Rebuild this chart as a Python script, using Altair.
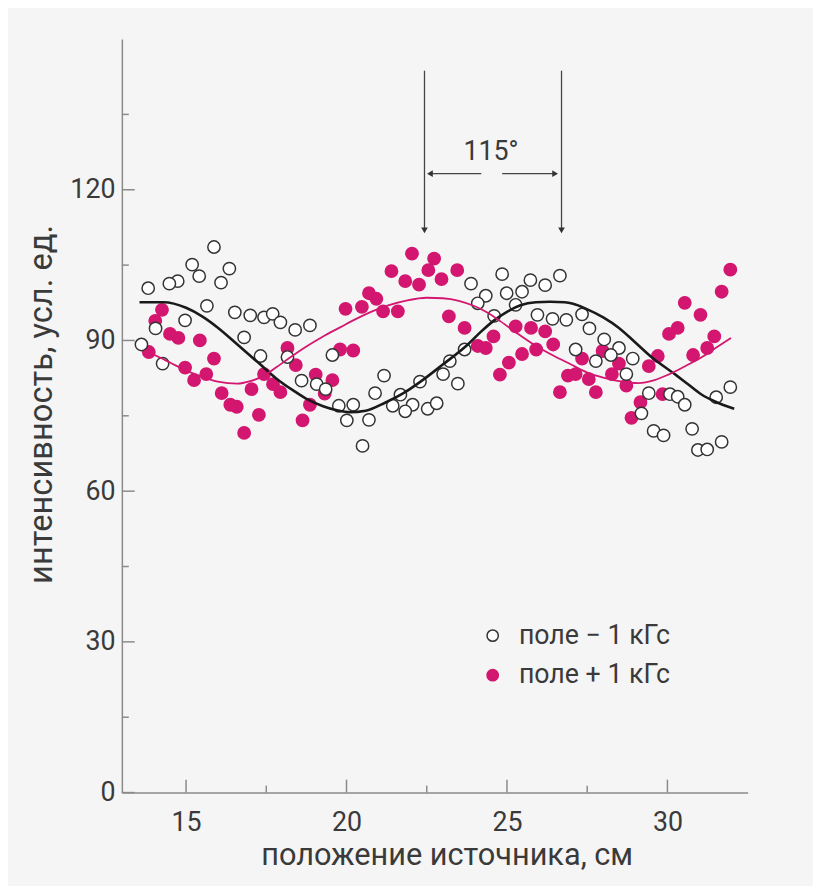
import altair as alt
import pandas as pd

MAG = "#d3166f"
FONT = "Roboto"
TXT = "#3a3a3a"
AXC = "#8a8a8a"

# open circles: field -1 kGs
open_x = [15.87, 15.19, 16.35, 15.41, 14.74, 14.48, 16.09, 13.82, 15.65, 14.97, 14.05, 16.52, 17.0, 17.43,
          17.70, 17.94, 18.40, 18.86, 16.81, 13.61, 14.27, 17.32, 18.16, 19.56, 18.6, 19.07, 19.35, 19.76,
          20.21, 20.01,
          24.85, 23.88, 24.34, 24.09, 24.99, 25.47, 25.73, 26.19, 26.65, 25.27, 24.6, 25.95, 26.42, 26.85,
          23.68, 23.22, 23.01, 23.47, 22.29, 21.17, 20.89, 21.68, 21.44, 22.06, 21.83, 22.53, 22.81, 20.70,
          20.5,
          27.34, 27.57, 28.03, 28.49, 27.14, 27.77, 28.24, 28.92, 28.72, 29.42, 30.08, 30.32, 30.54, 29.19,
          29.57, 29.88, 30.77, 30.95, 31.24, 31.69, 31.52, 31.96]
open_y = [108.6, 105.1, 104.3, 102.8, 101.8, 101.3, 101.5, 100.4, 96.9, 94.0, 92.4, 95.6, 95.0, 94.6,
          95.3, 93.6, 92.1, 93.0, 90.6, 89.2, 85.4, 86.9, 86.7, 87.1, 82.0, 81.3, 80.3, 77.0,
          77.2, 74.1,
          103.2, 101.3, 98.9, 97.4, 99.4, 99.7, 102.0, 101.0, 102.9, 97.1, 94.9, 95.1, 94.3, 94.1,
          88.2, 85.9, 83.3, 81.4, 81.8, 83.0, 79.5, 79.2, 77.0, 77.2, 75.9, 76.4, 77.5, 74.2,
          69.0,
          95.2, 92.4, 90.2, 88.5, 88.2, 85.9, 87.1, 86.4, 83.3, 79.5, 79.3, 78.8, 77.2, 75.5,
          72.0, 71.1, 72.4, 68.2, 68.3, 69.8, 78.7, 80.7]

# filled dots: field +1 kGs
fill_x = [14.25, 14.04, 14.5, 14.76, 15.43, 13.84, 15.87, 14.97, 15.25, 15.63, 16.11, 16.38, 16.58, 17.04,
          17.27, 16.81, 17.43, 17.71, 17.94, 18.16, 18.42, 19.04, 19.56, 19.32, 18.86, 18.63, 19.97, 19.8,
          20.21,
          22.04, 22.73, 21.4, 22.55, 23.45, 21.83, 22.26, 22.96, 20.70, 20.93, 20.48, 21.14, 21.6, 23.19,
          23.68, 24.58, 25.27, 25.75, 26.19, 24.09, 24.34, 26.44, 25.91, 25.47, 25.06, 24.78, 26.9, 26.65,
          31.96, 31.69, 30.54, 31.03, 30.32, 30.05, 31.46, 31.24, 30.8, 29.7, 29.42, 27.98, 27.34, 28.49,
          28.27, 27.14, 27.55, 27.77, 28.72, 29.85, 29.16, 28.88]
fill_y = [96.1, 93.9, 91.3, 90.5, 90.0, 87.7, 86.4, 84.6, 82.1, 83.3, 79.5, 77.2, 76.8, 80.3,
          75.2, 71.6, 83.3, 81.3, 79.7, 88.5, 85.1, 83.2, 82.1, 79.4, 77.2, 74.1, 96.3, 88.2,
          88.0,
          107.3, 106.3, 103.8, 104.0, 104.0, 101.8, 101.1, 102.2, 99.4, 98.3, 96.7, 95.8, 95.8, 94.8,
          92.5, 90.8, 92.8, 92.5, 91.8, 88.9, 88.5, 89.2, 88.2, 87.3, 85.6, 83.2, 83.0, 79.7,
          104.1, 99.7, 97.5, 95.1, 92.5, 91.3, 90.8, 88.5, 87.1, 86.9, 84.9, 87.9, 86.4, 85.4,
          83.3, 83.3, 82.3, 79.7, 81.0, 79.3, 77.7, 74.6]

# fitted curves
black_x = [13.55, 14.3, 15.0, 15.5, 16.0, 16.6, 17.3, 17.8, 18.35, 18.8, 19.27, 19.7, 20.1, 20.6, 21.2,
           21.8, 22.35, 23.0, 23.78, 24.2, 24.6, 25.0, 25.42, 25.9, 26.34, 26.8, 27.06, 27.47, 28.0,
           28.49, 29.0, 29.52, 30.23, 30.6, 31.05, 31.5, 32.08]
black_y = [97.6, 97.6, 96.5, 94.8, 92.5, 89.2, 85.3, 82.5, 80.0, 78.2, 76.9, 76.1, 75.7, 76.0, 77.6,
           79.6, 82.0, 85.2, 89.2, 91.8, 94.0, 95.7, 97.0, 97.6, 97.7, 97.6, 97.3, 96.3, 94.6,
           92.5, 89.6, 86.6, 83.3, 81.5, 79.3, 77.8, 76.4]
mag_x = [13.7, 14.05, 14.5, 14.97, 15.5, 15.99, 16.6, 17.0, 17.43, 17.8, 18.24, 18.7, 19.27, 19.8, 20.3,
         20.8, 21.3, 21.9, 22.5, 23.0, 23.5, 24.0, 24.4, 24.8, 25.3, 25.83, 26.44, 27.0, 27.47, 28.0,
         28.49, 29.1, 29.6, 30.03, 30.5, 31.05, 31.5, 31.98]
mag_y = [88.0, 87.0, 85.6, 84.1, 82.8, 81.8, 81.4, 81.9, 83.0, 84.6, 86.6, 88.6, 90.8, 92.6, 94.3,
         95.8, 97.0, 98.0, 98.5, 98.4, 97.9, 96.8, 95.5, 93.8, 91.5, 89.2, 87.0, 85.2, 83.7, 82.6,
         81.9, 81.5, 82.1, 83.2, 84.7, 86.6, 88.5, 90.5]

series_names = ["поле − 1 кГс", "поле + 1 кГс"]

x_major = [15, 20, 25, 30]
x_minor = [17.5, 22.5, 27.5]
y_major = [0, 30, 60, 90, 120]
y_minor = [15, 45, 75, 105, 135]

# annotation: phase-shift arrows
arrow_x = [22.43, 26.7]
arrow_top = [143.7, 143.7]
arrow_tip = [111.9, 111.9]
span_y = 123.2
span_seg_x = [22.6, 24.2, 24.85, 26.5]
span_label = "115°"
span_label_x = 24.5
span_label_y = 127.5

W, H = 632, 761

xscale = alt.Scale(domain=[13, 32.5], nice=False, zero=False)
yscale = alt.Scale(domain=[0, 150], nice=False, zero=True)

xaxis = alt.Axis(title="положение источника, см", values=x_major, ticks=False, labelPadding=17,
                 titlePadding=6, titleFontSize=31, titleX=W / 2 + 12,
                 domainColor=AXC, domainWidth=1.5, zindex=1)
yaxis = alt.Axis(title="интенсивность, усл. ед.", values=y_major, ticks=False, labelPadding=7,
                 titlePadding=12, titleFontSize=33, titleY=H / 2 - 12,
                 domainColor=AXC, domainWidth=1.5, zindex=1)

X = alt.X("x:Q", scale=xscale, axis=xaxis)
Y = alt.Y("y:Q", scale=yscale, axis=yaxis)

xt_major = alt.Chart(pd.DataFrame({"x": x_major})).mark_rule(color=AXC, strokeWidth=1.5).encode(
    x=X, y=alt.value(H), y2=alt.value(H - 13))
xt_minor = alt.Chart(pd.DataFrame({"x": x_minor})).mark_rule(color=AXC, strokeWidth=1.5).encode(
    x=X, y=alt.value(H), y2=alt.value(H - 7))
yt_major = alt.Chart(pd.DataFrame({"y": y_major})).mark_rule(color=AXC, strokeWidth=1.5).encode(
    y=Y, x=alt.value(0), x2=alt.value(13))
yt_minor = alt.Chart(pd.DataFrame({"y": y_minor})).mark_rule(color=AXC, strokeWidth=1.5).encode(
    y=Y, x=alt.value(0), x2=alt.value(7))

pts = pd.concat([
    pd.DataFrame({"x": fill_x, "y": fill_y, "series": series_names[1]}),
    pd.DataFrame({"x": open_x, "y": open_y, "series": series_names[0]}),
])
leg = alt.Legend(title=None, orient="none", legendX=361, legendY=589, labelFont=FONT, labelFontSize=27,
                 labelColor=TXT, symbolSize=130, symbolStrokeWidth=1.5, labelOffset=13, rowPadding=12,
                 symbolType="circle", zindex=1)
points = alt.Chart(pts).mark_point(shape="circle", size=155, strokeWidth=1.5, opacity=1).encode(
    x=X, y=Y,
    fill=alt.Fill("series:N", scale=alt.Scale(domain=series_names, range=["white", MAG]), legend=leg),
    stroke=alt.Stroke("series:N", scale=alt.Scale(domain=series_names, range=["#333333", MAG]), legend=leg),
)

black = alt.Chart(pd.DataFrame({"x": black_x, "y": black_y})).mark_line(
    color="#1a1a1a", strokeWidth=2.6, interpolate="monotone").encode(x=X, y=Y)
magl = alt.Chart(pd.DataFrame({"x": mag_x, "y": mag_y})).mark_line(
    color=MAG, strokeWidth=1.8, interpolate="monotone").encode(x=X, y=Y)

adf = pd.DataFrame({"x": arrow_x, "y": arrow_top, "y2": arrow_tip})
vlines = alt.Chart(adf).mark_rule(color="#444444", strokeWidth=1.3).encode(x=X, y=Y, y2="y2:Q")
vheads = alt.Chart(pd.DataFrame({"x": arrow_x, "y": arrow_tip})).mark_point(
    shape="triangle-down", filled=True, color="#333333", size=45, opacity=1).encode(x=X, y=Y)

sdf = pd.DataFrame({"x": [span_seg_x[0], span_seg_x[2]], "x2": [span_seg_x[1], span_seg_x[3]],
                    "y": [span_y, span_y]})
hlines = alt.Chart(sdf).mark_rule(color="#444444", strokeWidth=1.3).encode(x=X, x2="x2:Q", y=Y)
lhead = alt.Chart(pd.DataFrame({"x": [span_seg_x[0]], "y": [span_y]})).mark_point(
    shape="triangle-left", filled=True, color="#333333", size=45, opacity=1).encode(x=X, y=Y)
rhead = alt.Chart(pd.DataFrame({"x": [span_seg_x[3]], "y": [span_y]})).mark_point(
    shape="triangle-right", filled=True, color="#333333", size=45, opacity=1).encode(x=X, y=Y)
label = alt.Chart(pd.DataFrame({"x": [span_label_x], "y": [span_label_y], "t": [span_label]})).mark_text(
    font=FONT, fontSize=27, color=TXT, align="center", baseline="middle").encode(x=X, y=Y, text="t:N")

chart = alt.layer(
    xt_major, xt_minor, yt_major, yt_minor, points, black, magl,
    vlines, vheads, hlines, lhead, rhead, label
).properties(
    width=W, height=H,
    padding={"left": 115, "top": 27, "right": 66, "bottom": 90},
    autosize=alt.AutoSizeParams(type="none"),
    background="#f5f5f5",
).configure_view(stroke=None).configure_axis(
    grid=False, labelFont=FONT, titleFont=FONT, labelFontSize=27,
    titleFontWeight="normal", labelColor=TXT, titleColor=TXT,
)

chart.save("out.html", embed_options={"renderer": "svg", "actions": False})
